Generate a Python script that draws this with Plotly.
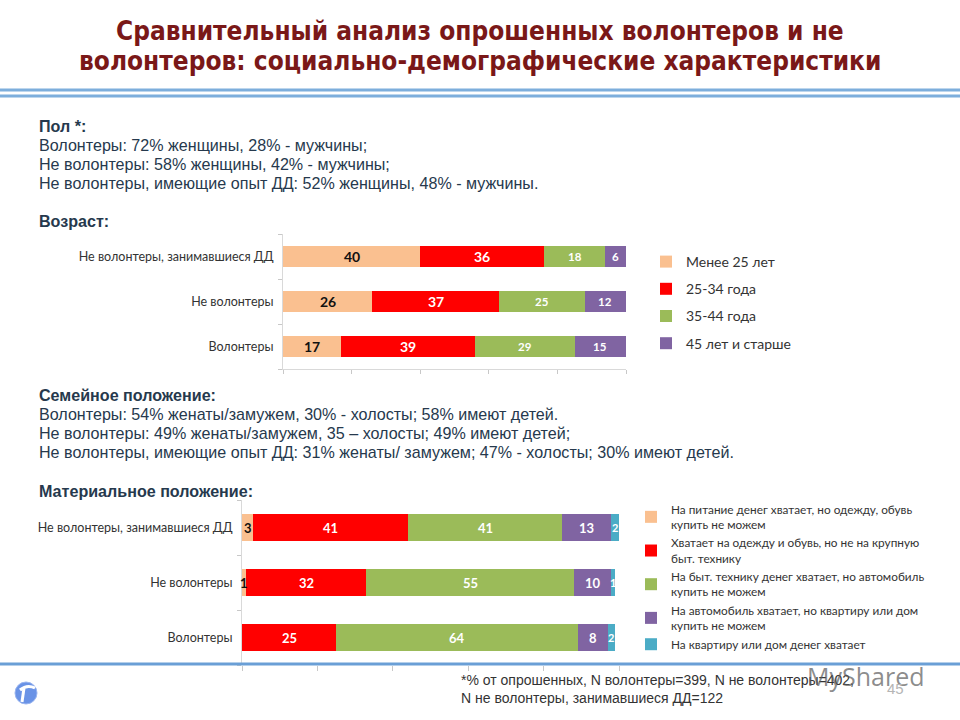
import plotly.graph_objects as go

W, H = 960, 720

# ---------------- data ----------------
title_lines = [
    "Сравнительный анализ опрошенных волонтеров и не",
    "волонтеров: социально-демографические характеристики",
]

gender_header = "Пол *:"
gender_lines = [
    "Волонтеры: 72% женщины, 28% - мужчины;",
    "Не волонтеры: 58% женщины, 42% - мужчины;",
    "Не волонтеры, имеющие опыт ДД: 52% женщины, 48% - мужчины.",
]
age_header = "Возраст:"
family_header = "Семейное положение:"
family_lines = [
    "Волонтеры: 54% женаты/замужем, 30% - холосты; 58% имеют детей.",
    "Не волонтеры: 49% женаты/замужем, 35 – холосты; 49% имеют детей;",
    "Не волонтеры, имеющие опыт ДД: 31% женаты/ замужем; 47% - холосты; 30% имеют детей.",
]
income_header = "Материальное положение:"
footnote_lines = [
    "*% от опрошенных, N волонтеры=399, N не волонтеры=402,",
    "N не волонтеры, занимавшиеся ДД=122",
]
page_number = "45"
watermark = "MyShared"

# groups, bottom to top
groups = ["Волонтеры", "Не волонтеры", "Не волонтеры, занимавшиеся ДД"]

# Age chart
age_names = ["Менее 25 лет", "25-34 года", "35-44 года", "45 лет и старше"]
age_lt25 = [17, 26, 40]
age_25_34 = [39, 37, 36]
age_35_44 = [29, 25, 18]
age_45plus = [15, 12, 6]

# Income chart
income_names = [
    "На питание денег хватает, но одежду, обувь<br>купить не можем",
    "Хватает на одежду и обувь, но не на крупную<br>быт. технику",
    "На быт. технику денег хватает, но автомобиль<br>купить не можем",
    "На автомобиль хватает, но квартиру или дом<br>купить не можем",
    "На квартиру или дом денег хватает",
]
inc_food = [0, 1, 3]
inc_clothes = [25, 32, 41]
inc_appliances = [64, 55, 41]
inc_car = [8, 10, 13]
inc_home = [2, 1, 2]

# ---------------- styles ----------------
PEACH, RED, GREEN, PURPLE, TEAL = "#FAC090", "#FF0000", "#9BBB59", "#8064A2", "#4BACC6"
BLUE_LINE = "#7DAEDC"
TEXT_BLUE = "#26394D"
CAL = "Lato, 'Open Sans', sans-serif"
ARIAL = "'Liberation Sans', Arial, sans-serif"
NARROW = "'Liberation Sans Narrow', 'Arial Narrow', 'DejaVu Sans Condensed', sans-serif"


def px(x):
    return x / W


def py(y):
    return 1 - y / H


fig = go.Figure()

age_series = [age_lt25, age_25_34, age_35_44, age_45plus]
age_colors = [PEACH, RED, GREEN, PURPLE]
age_label_colors = ["#111111", "white", "white", "white"]
age_label_sizes = [14, 14, 11.5, 11.5]

inc_series = [inc_food, inc_clothes, inc_appliances, inc_car, inc_home]
inc_colors = [PEACH, RED, GREEN, PURPLE, TEAL]
inc_label_colors = ["#111111", "white", "white", "white", "white"]
inc_label_sizes = [13, 13, 13, 13, 11]

annotations = []

for i, (name, vals, col) in enumerate(zip(age_names, age_series, age_colors)):
    fig.add_trace(go.Bar(
        y=groups, x=vals, orientation="h", name=name,
        marker=dict(color=col, line=dict(width=0)), width=0.47,
        xaxis="x", yaxis="y", legend="legend", legendgroup="a%d" % i,
        hoverinfo="skip",
    ))

for i, (name, vals, col) in enumerate(zip(income_names, inc_series, inc_colors)):
    fig.add_trace(go.Bar(
        y=groups, x=vals, orientation="h", name=name,
        marker=dict(color=col, line=dict(width=0)), width=0.5,
        xaxis="x2", yaxis="y2", legend="legend2", legendgroup="b%d" % i,
        hoverinfo="skip",
    ))


# data labels at segment centres
def add_labels(series, colors, sizes, xr, yr):
    for gi, g in enumerate(groups):
        cum = 0
        for si, vals in enumerate(series):
            v = vals[gi]
            if v:
                annotations.append(dict(
                    x=cum + v / 2, y=g, xref=xr, yref=yr, text="<b>%d</b>" % v,
                    showarrow=False, font=dict(family=CAL, size=sizes[si], color=colors[si]),
                ))
            cum += v


add_labels(age_series, age_label_colors, age_label_sizes, "x", "y")
add_labels(inc_series, inc_label_colors, inc_label_sizes, "x2", "y2")

# Title
for t, y in zip(title_lines, [31, 61]):
    annotations.append(dict(
        x=0.5, y=py(y), xref="paper", yref="paper", text="<b>%s</b>" % t,
        showarrow=False, xanchor="center", yanchor="middle",
        font=dict(family=NARROW, size=26, color="#7A1818"),
    ))


def text_line(t, x, y, size=16.1, bold=False, color=TEXT_BLUE, family=ARIAL):
    annotations.append(dict(
        x=px(x), y=py(y), xref="paper", yref="paper",
        text=("<b>%s</b>" % t) if bold else t, showarrow=False,
        xanchor="left", yanchor="middle", font=dict(family=family, size=size, color=color),
    ))


text_line(gender_header, 37, 126, bold=True)
for t, y in zip(gender_lines, [145, 164, 183]):
    text_line(t, 37, y)
text_line(age_header, 37, 221, bold=True)
text_line(family_header, 37, 395, bold=True)
for t, y in zip(family_lines, [414, 433, 452]):
    text_line(t, 37, y)
text_line(income_header, 37, 491, bold=True)

for t, y in zip(footnote_lines, [680, 698]):
    text_line(t, 459, y, size=14, color="#333333")

# watermark & page number
annotations.append(dict(x=px(805), y=py(676), xref="paper", yref="paper", text=watermark,
                        showarrow=False, xanchor="left", yanchor="middle",
                        font=dict(family="'Open Sans', sans-serif", size=25,
                                  color="rgba(90,90,90,0.7)")))
annotations.append(dict(x=px(895), y=py(688), xref="paper", yref="paper", text=page_number,
                        showarrow=False, xanchor="center", yanchor="middle",
                        font=dict(family=ARIAL, size=15, color="#B5B5B5")))

shapes = [
    dict(type="line", xref="paper", yref="paper", x0=0, x1=1, y0=py(90), y1=py(90),
         line=dict(color=BLUE_LINE, width=3)),
    dict(type="line", xref="paper", yref="paper", x0=0, x1=1, y0=py(96), y1=py(96),
         line=dict(color=BLUE_LINE, width=3)),
    dict(type="line", xref="paper", yref="paper", x0=0, x1=1, y0=py(664), y1=py(664),
         line=dict(color="#6A9FD6", width=3)),
    # logo
    dict(type="circle", xref="paper", yref="paper", x0=px(15), x1=px(37), y0=py(704), y1=py(682),
         fillcolor="#6A93E6", line=dict(color="#9BB6F0", width=1)),
    dict(type="path", xref="paper", yref="paper",
         path="M %f %f Q %f %f %f %f" % (px(20), py(690), px(27), py(684), px(35), py(688)),
         line=dict(color="white", width=3)),
    dict(type="line", xref="paper", yref="paper", x0=px(24), x1=px(22), y0=py(688), y1=py(702),
         line=dict(color="white", width=3)),
]

axis_common = dict(showgrid=False, zeroline=False, fixedrange=True)

fig.update_layout(
    width=W, height=H, margin=dict(l=0, r=0, t=0, b=0),
    paper_bgcolor="white", plot_bgcolor="white",
    barmode="stack", bargap=0.5,
    showlegend=True,
    xaxis=dict(domain=[px(283), px(626)], range=[0, 100], anchor="y", showticklabels=False,
               ticks="outside", tick0=0, dtick=20, ticklen=4, tickcolor="#C8C8C8",
               showline=True, linecolor="#D9D9D9", linewidth=1, **axis_common),
    yaxis=dict(domain=[py(369), py(234)], anchor="x", type="category",
               categoryorder="array", categoryarray=groups, tickson="boundaries",
               ticks="outside", ticklen=4, tickcolor="#C8C8C8", showline=True,
               linecolor="#D9D9D9", linewidth=1, ticklabelstandoff=6,
               tickfont=dict(family=CAL, size=12.5, color="#333333"), **axis_common),
    xaxis2=dict(domain=[px(242), px(619)], range=[0, 100], anchor="y2", showticklabels=False,
                ticks="outside", tick0=0, dtick=20, ticklen=5, tickcolor="#C8C8C8",
                showline=False, **axis_common),
    yaxis2=dict(domain=[py(665), py(500)], anchor="x2", type="category",
                categoryorder="array", categoryarray=groups, tickson="boundaries",
                ticks="outside", ticklen=4, tickcolor="#C8C8C8", showline=True,
                linecolor="#D9D9D9", linewidth=1, ticklabelstandoff=6,
                tickfont=dict(family=CAL, size=12.5, color="#333333"), **axis_common),
    legend=dict(x=px(646), y=py(246), xanchor="left", yanchor="top", traceorder="grouped",
                tracegroupgap=6, bgcolor="rgba(0,0,0,0)",
                font=dict(family=CAL, size=14, color="#333333")),
    legend2=dict(x=px(631), y=py(495), xanchor="left", yanchor="top", traceorder="grouped",
                 tracegroupgap=0, bgcolor="rgba(0,0,0,0)",
                 font=dict(family=CAL, size=11.8, color="#333333")),
    annotations=annotations,
    shapes=shapes,
)

fig.write_html("out.html", config={"displayModeBar": False, "staticPlot": True},
               post_script="document.body.style.margin='0';")
